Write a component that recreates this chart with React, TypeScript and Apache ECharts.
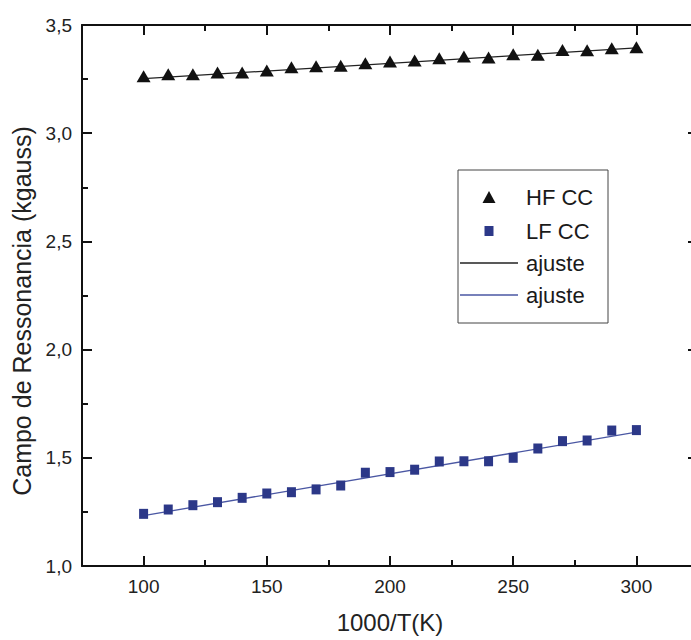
import React, { useEffect, useRef } from "react";
import * as echarts from "echarts";

const xValues = [100, 110, 120, 130, 140, 150, 160, 170, 180, 190, 200, 210, 220, 230, 240, 250, 260, 270, 280, 290, 300];
const hfValues = [3.263, 3.272, 3.272, 3.281, 3.281, 3.29, 3.305, 3.309, 3.312, 3.323, 3.331, 3.336, 3.346, 3.354, 3.35, 3.365, 3.362, 3.385, 3.383, 3.393, 3.397];
const lfValues = [1.241, 1.261, 1.281, 1.295, 1.315, 1.335, 1.341, 1.354, 1.372, 1.431, 1.434, 1.445, 1.483, 1.484, 1.484, 1.5, 1.543, 1.577, 1.58, 1.626, 1.628];
const fitHF = [[100, 3.252], [300, 3.394]];
const fitLF = [[100, 1.233], [300, 1.619]];
const xMajorTicks = [100, 150, 200, 250, 300];
const xMinorTicks = [125, 175, 225, 275];
const legendLabels = ["HF CC", "LF CC", "ajuste", "ajuste"];
const xTitle = "1000/T(K)";
const yTitle = "Campo de Ressonancia (kgauss)";

const SANS = "'Liberation Sans', Arial, sans-serif";
const INK = "#111";
const BLUE = "#2c3888";
const BLUE_LINE = "#4a57a3";

export default function App() {
  const ref = useRef<HTMLDivElement>(null);
  useEffect(() => {
    if (!ref.current) return;
    const chart = echarts.init(ref.current, null, { renderer: "svg" });
    const xMin = 75;
    const xMax = 325;
    const axisLine = { show: true, lineStyle: { color: INK, width: 2 } };
    const baseX = {
      type: "value",
      min: xMin,
      max: xMax,
      splitLine: { show: false },
      gridIndex: 0,
    };
    const baseY = {
      type: "value",
      min: 1.0,
      max: 3.5,
      interval: 0.5,
      splitLine: { show: false },
      minorTick: { show: true, splitNumber: 2, length: 6, lineStyle: { color: INK, width: 2 } },
      axisTick: { show: true, inside: true, length: 10, lineStyle: { color: INK, width: 2 } },
    };
    chart.setOption({
      animation: false,
      backgroundColor: "#fff",
      grid: { left: 82, top: 25, width: 616, height: 541, containLabel: false },
      xAxis: [
        {
          ...baseX,
          position: "bottom",
          axisLine,
          axisTick: { show: true, inside: true, length: 10, customValues: xMajorTicks, lineStyle: { color: INK, width: 2 } },
          axisLabel: { show: true, customValues: xMajorTicks, fontSize: 19, fontFamily: SANS, color: "#222", margin: 11 },
          name: xTitle,
          nameLocation: "middle",
          nameGap: 44,
          nameTextStyle: { fontSize: 24, fontFamily: SANS, color: "#222" },
        },
        {
          ...baseX,
          position: "bottom",
          axisLine: { show: false },
          axisTick: { show: true, inside: true, length: 6, customValues: xMinorTicks, lineStyle: { color: INK, width: 2 } },
          axisLabel: { show: false },
        },
        {
          ...baseX,
          position: "top",
          axisLine,
          axisTick: { show: true, inside: true, length: 10, customValues: xMajorTicks, lineStyle: { color: INK, width: 2 } },
          axisLabel: { show: false },
        },
        {
          ...baseX,
          position: "top",
          axisLine: { show: false },
          axisTick: { show: true, inside: true, length: 6, customValues: xMinorTicks, lineStyle: { color: INK, width: 2 } },
          axisLabel: { show: false },
        },
      ],
      yAxis: [
        {
          ...baseY,
          position: "left",
          axisLine,
          axisLabel: {
            show: true,
            fontSize: 19,
            fontFamily: SANS,
            color: "#222",
            margin: 10,
            formatter: (v: number) => v.toFixed(1).replace(".", ","),
          },
        },
        {
          ...baseY,
          position: "right",
          axisLine,
          axisLabel: { show: false },
        },
      ],
      series: [
        {
          type: "line",
          name: "ajuste HF",
          data: fitHF,
          showSymbol: false,
          symbol: "none",
          lineStyle: { color: "#222", width: 1.3 },
          z: 2,
        },
        {
          type: "line",
          name: "ajuste LF",
          data: fitLF,
          showSymbol: false,
          symbol: "none",
          lineStyle: { color: BLUE_LINE, width: 1.3 },
          z: 2,
        },
        {
          type: "scatter",
          name: "HF CC",
          data: xValues.map((x, i) => [x, hfValues[i]]),
          symbol: "triangle",
          symbolSize: [14, 12],
          itemStyle: { color: INK, opacity: 1 },
          z: 3,
        },
        {
          type: "scatter",
          name: "LF CC",
          data: xValues.map((x, i) => [x, lfValues[i]]),
          symbol: "rect",
          symbolSize: [9, 10],
          itemStyle: { color: BLUE, opacity: 1 },
          z: 3,
        },
      ],
      graphic: [
        {
          type: "text",
          x: 22,
          y: 311,
          rotation: Math.PI / 2,
          style: {
            text: yTitle,
            fontSize: 25,
            fontFamily: SANS,
            fill: "#222",
            align: "center",
            verticalAlign: "middle",
          },
        },
        {
          type: "group",
          children: [
            {
              type: "rect",
              shape: { x: 458, y: 170, width: 150, height: 153 },
              style: { fill: "#fff", stroke: "#444", lineWidth: 1 },
            },
            {
              type: "polygon",
              shape: { points: [[489, 191], [495.5, 203], [482.5, 203]] },
              style: { fill: INK },
            },
            {
              type: "rect",
              shape: { x: 484.5, y: 226, width: 9, height: 10 },
              style: { fill: BLUE },
            },
            {
              type: "line",
              shape: { x1: 460, y1: 263, x2: 518, y2: 263 },
              style: { stroke: "#222", lineWidth: 1.3 },
            },
            {
              type: "line",
              shape: { x1: 460, y1: 295, x2: 518, y2: 295 },
              style: { stroke: BLUE_LINE, lineWidth: 1.3 },
            },
            ...legendLabels.map((t, i) => ({
              type: "text",
              x: 526,
              y: [197, 231, 263, 295][i],
              style: {
                text: t,
                fontSize: 22,
                fontFamily: SANS,
                fill: "#1a1a1a",
                align: "left",
                verticalAlign: "middle",
              },
            })),
          ],
        },
      ],
    });
    return () => chart.dispose();
  }, []);
  return (
    <div style={{ position: "fixed", left: 0, top: 0, width: 691, height: 640, overflow: "hidden", background: "#fff" }}>
      <div ref={ref} style={{ width: 700, height: 640 }} />
    </div>
  );
}
